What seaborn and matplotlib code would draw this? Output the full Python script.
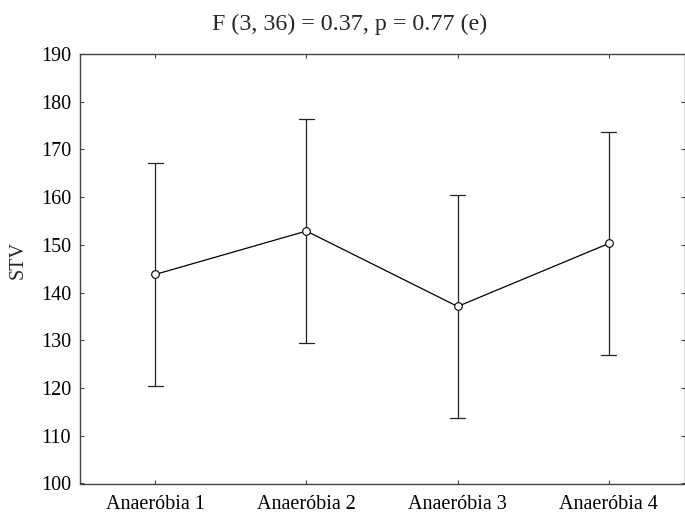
import numpy as np
import pandas as pd
import matplotlib
matplotlib.use("Agg")
import matplotlib.pyplot as plt
import seaborn as sns

categories = ["Anaeróbia 1", "Anaeróbia 2", "Anaeróbia 3", "Anaeróbia 4"]
means = [143.8, 152.9, 137.1, 150.3]
lower = [120.4, 129.5, 113.7, 126.9]
upper = [167.2, 176.3, 160.5, 173.7]
yticks = [100, 110, 120, 130, 140, 150, 160, 170, 180, 190]
title = "F (3, 36) = 0.37, p = 0.77 (e)"
ylabel = "STV"

# long-form table: median of (lower, mean, upper) = mean, 100% interval = [lower, upper]
rows = []
for c, lo, m, hi in zip(categories, lower, means, upper):
    for v in (lo, m, hi):
        rows.append({"cat": c, "val": v})
df = pd.DataFrame(rows)

sns.set_theme(style="ticks")
plt.rcParams["font.family"] = ["Liberation Serif", "DejaVu Serif"]

W, H = 685, 516
fig = plt.figure(figsize=(W / 100, H / 100), dpi=100)
left, right, top, bottom = 79.5, 684.5, 54.0, 483.5
ax = fig.add_axes([left / W, 1 - bottom / H, (right - left) / W, (bottom - top) / H])

sns.pointplot(
    data=df, x="cat", y="val", order=categories,
    estimator="median", errorbar=("pi", 100),
    color="black", capsize=0.1,
    markers="o", markersize=5.5, markerfacecolor="white",
    markeredgecolor="black", markeredgewidth=0.8,
    linewidth=0.9, err_kws={"linewidth": 0.9, "color": "#222222"},
    ax=ax,
)

# make markers sit on top of error bars
for ln in ax.lines:
    if ln.get_marker() not in (None, "None", "", " "):
        ln.set_zorder(5)

ax.set_xlim(-0.5, 3.5)
ax.set_ylim(100, 190)
ax.set_yticks(yticks)
ax.set_xlabel("")
ax.set_ylabel("")
for s in ax.spines.values():
    s.set_visible(True)
    s.set_linewidth(1.0)
    s.set_color("#444444")
ax.tick_params(axis="both", which="both", direction="in", length=3, width=0.8,
               colors="#444444", labelcolor="black", labelsize=14.5,
               top=True, right=True)
ax.tick_params(axis="x", pad=8)
ax.tick_params(axis="y", pad=6)

fig.text(350 / W, 1 - 24 / H, title, ha="center", va="center", fontsize=17.3)
fig.text(18 / W, 1 - 260 / H, ylabel, ha="center", va="center", rotation=90, fontsize=14.5)

fig.savefig("out.png", dpi=100)
